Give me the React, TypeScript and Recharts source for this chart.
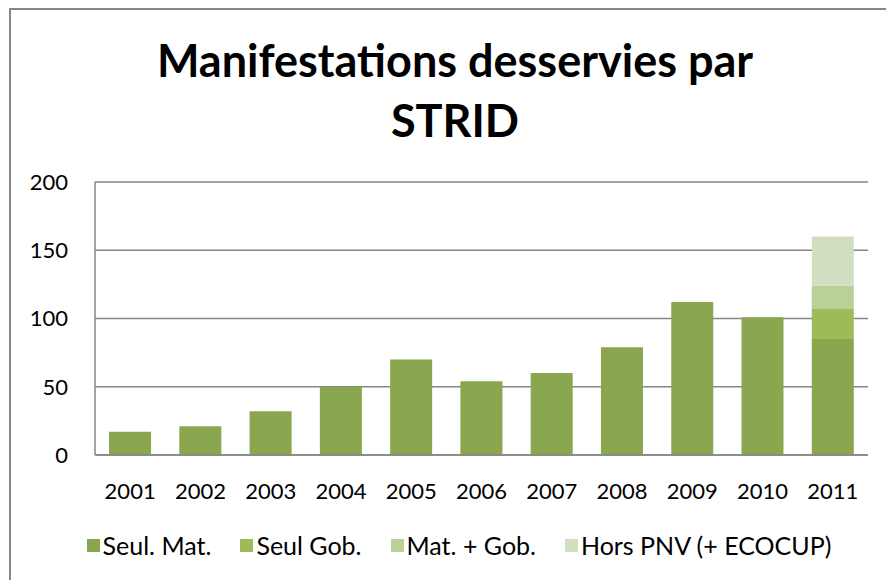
import * as React from "react"
import { BarChart, Bar, XAxis, YAxis, CartesianGrid, Legend } from "recharts"

const years = ["2001", "2002", "2003", "2004", "2005", "2006", "2007", "2008", "2009", "2010", "2011"]
const seulMat = [17, 21, 32, 50, 70, 54, 60, 79, 112, 101, 85]
const seulGob = [null, null, null, null, null, null, null, null, null, null, 22]
const matGob = [null, null, null, null, null, null, null, null, null, null, 17]
const horsPnv = [null, null, null, null, null, null, null, null, null, null, 36]
const yTicks = [0, 50, 100, 150, 200]

const series = [
  { key: "seulMat", name: "Seul. Mat.", color: "#8AA64E" },
  { key: "seulGob", name: "Seul Gob.", color: "#9DBB59" },
  { key: "matGob", name: "Mat. + Gob.", color: "#BBCF98" },
  { key: "horsPnv", name: "Hors PNV (+ ECOCUP)", color: "#D2DEC0" },
]

const data = years.map((year, i) => ({
  year,
  seulMat: seulMat[i],
  seulGob: seulGob[i],
  matGob: matGob[i],
  horsPnv: horsPnv[i],
}))

const font = "Lato, 'Noto Sans', sans-serif"
const grey = "#868686"

function LegendContent() {
  return (
    <div style={{ display: "flex", justifyContent: "center", fontFamily: font, fontSize: 25 }}>
      {series.map((s, i) => (
        <div key={s.key} style={{ display: "flex", alignItems: "center", marginLeft: i === 0 ? 0 : 29 }}>
          <span style={{ width: 13, height: 13, background: s.color, display: "inline-block", marginRight: 3 }} />
          <span style={{ color: "#000" }}>{s.name}</span>
        </div>
      ))}
    </div>
  )
}

export default function App() {
  return (
    <div style={{ position: "absolute", left: 0, top: 0, width: 886, height: 580, overflow: "hidden", background: "#fff" }}>
      <div style={{ position: "absolute", left: 9, top: 8, width: 900, height: 600, border: `2px solid ${grey}` }} />
      <div
        style={{
          position: "absolute",
          left: 0,
          top: 30,
          width: 910,
          textAlign: "center",
          fontFamily: font,
          fontWeight: 700,
          fontSize: 45,
          lineHeight: "60px",
          color: "#000",
        }}
      >
        Manifestations desservies par
        <br />
        STRID
      </div>
      <div style={{ position: "absolute", left: 0, top: 0 }}>
        <BarChart
          width={886}
          height={580}
          data={data}
          margin={{ top: 182, right: 18, left: 10, bottom: 80 }}
          barCategoryGap="20%"
        >
          <CartesianGrid vertical={false} stroke={grey} strokeWidth={1.5} />
          <XAxis
            dataKey="year"
            axisLine={{ stroke: grey, strokeWidth: 1.5 }}
            tickLine={false}
            tickSize={0}
            tickMargin={28}
            height={45}
            tick={{ fill: "#000", fontSize: 22, fontFamily: font }}
          />
          <YAxis
            domain={[0, 200]}
            ticks={yTicks}
            width={85}
            axisLine={{ stroke: grey, strokeWidth: 1.5 }}
            tickLine={false}
            tickSize={0}
            tickMargin={27}
            tick={{ fill: "#000", fontSize: 22, fontFamily: font }}
          />
          <Legend
            layout="horizontal"
            verticalAlign="middle"
            align="center"
            content={<LegendContent />}
            wrapperStyle={{ top: 530, left: 16, width: 886 }}
          />
          {series.map((s) => (
            <Bar key={s.key} dataKey={s.key} name={s.name} stackId="a" fill={s.color} isAnimationActive={false} />
          ))}
        </BarChart>
      </div>
    </div>
  )
}
